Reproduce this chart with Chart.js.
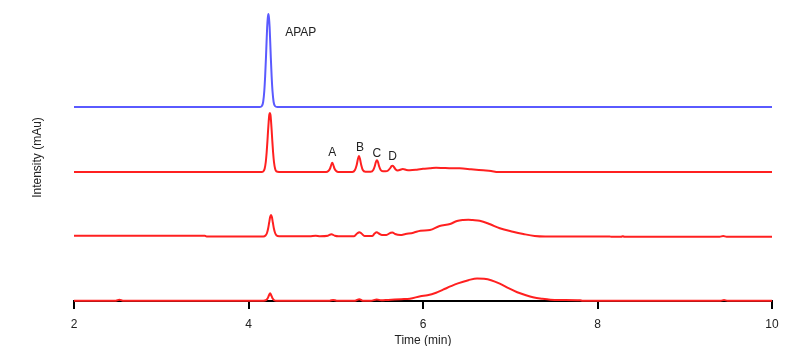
<!DOCTYPE html>
<html>
<head>
<meta charset="utf-8">
<script src="https://cdn.jsdelivr.net/npm/chart.js@4.4.1/dist/chart.umd.min.js"></script>
<style>
html,body{margin:0;padding:0;background:#fff;}
#wrap{width:800px;height:346px;}
</style>
</head>
<body>
<div id="wrap"><canvas id="c" width="800" height="346"></canvas></div>
<script>
// ---- DATA (time in min, intensity in mAu above each trace's own baseline) ----
const xTicks = [2, 4, 6, 8, 10];

const blueTime = [2.0, 4.13, 4.153, 4.168, 4.181, 4.191, 4.200, 4.207, 4.214, 4.221, 4.228, 4.235, 4.242, 4.249, 4.256, 4.265, 4.275, 4.288, 4.303, 4.33, 10.0];
const blueInt  = [0,   0,    1,     5,     16,    31,    49,    65,    80,    89,    93,    89,    80,    65,    49,    31,    16,    5,     1,     0,    0];

const red1Time = [2.0, 4.15, 4.17, 4.185, 4.198, 4.208, 4.217, 4.224, 4.231, 4.238, 4.245, 4.252, 4.259, 4.266, 4.273, 4.282, 4.292, 4.305, 4.32, 4.35,
                  4.89, 4.915, 4.935, 4.948, 4.96, 4.972, 4.985, 5.005, 5.03,
                  5.19, 5.22, 5.24, 5.254, 5.266, 5.278, 5.292, 5.31, 5.34, 5.37,
                  5.40, 5.43, 5.448, 5.46, 5.472, 5.484, 5.496, 5.515, 5.54,
                  5.57, 5.60, 5.625, 5.64, 5.652, 5.667, 5.687, 5.71,
                  5.77, 5.81, 5.85, 5.93, 6.0, 6.08, 6.15, 6.23, 6.3, 6.42, 6.55, 6.69, 6.78, 6.86, 10.0];
const red1Int  = [0, 0, 0.6, 3.3, 10, 19.5, 31, 41, 50, 57, 59, 57, 50, 41, 31, 19.5, 10, 3.3, 0.6, 0,
                  0, 1, 3.5, 7, 9.3, 7, 3.5, 1, 0,
                  0, 2, 7, 13, 16, 13, 7, 2, 0.3, 0.3,
                  0.3, 2, 6, 10, 11.7, 10, 6, 2, 0.8,
                  0.8, 1.5, 4, 6, 6.3, 5, 2.5, 1.5,
                  3, 2, 1.7, 2.3, 3.2, 3.7, 4.2, 4, 3.8, 3.7, 2.8, 1.7, 1, 0, 0];

const red2Time = [2.0, 3.5, 3.52, 4.17, 4.195, 4.212, 4.225, 4.237, 4.248, 4.258, 4.268, 4.279, 4.291, 4.305, 4.322, 4.35,
                  4.7, 4.77, 4.82, 4.91, 4.95, 4.99, 5.03, 5.21, 5.245, 5.27, 5.295, 5.33, 5.42, 5.445, 5.47, 5.495, 5.53,
                  5.58, 5.63, 5.65, 5.68, 5.74, 5.8, 5.89, 5.97, 6.08, 6.19, 6.31, 6.39, 6.46, 6.52, 6.57, 6.65, 6.77, 6.88,
                  7.03, 7.15, 7.28, 7.4, 8.14, 8.16, 8.27, 8.29, 8.31, 9.40, 9.44, 9.48, 10.0];
const red2Int  = [0.7, 0.7, 0, 0, 1, 3.5, 8, 14, 19.5, 21.5, 19.5, 14, 8, 3.5, 1, 0.3,
                  0.3, 0.8, 0.3, 0.8, 2.3, 0.8, 0.3, 0.3, 3, 4.3, 3, 0.5, 0.5, 3, 4.3, 3, 1.5,
                  1.5, 3.8, 4, 2.5, 1.5, 2.5, 3.8, 5.8, 6.5, 10.5, 12.5, 15.5, 16.5, 16.8, 16.5, 15.8, 12.2, 8.2,
                  4.8, 2.5, 0.5, 0, 0, -0.3, -0.3, 0.3, -0.3, -0.3, 0.5, -0.3, -0.3];

const red3Time = [2.0, 2.48, 2.52, 2.56, 4.17, 4.20, 4.22, 4.235, 4.248, 4.26, 4.275, 4.295, 4.32,
                  4.93, 4.97, 5.01, 5.22, 5.27, 5.31, 5.40, 5.47, 5.52, 5.6, 5.75, 5.85, 5.97, 6.05, 6.15, 6.23, 6.32,
                  6.40, 6.52, 6.62, 6.7, 6.78, 6.88, 6.98, 7.08, 7.18, 7.26, 7.36, 7.46, 7.6, 7.8, 7.83, 9.41, 9.45, 9.49, 10.0];
const red3Int  = [0, 0, 1, 0, 0, 0.5, 2.5, 5.5, 7.5, 5.5, 2.5, 0.5, 0,
                  0, 0.8, 0, 0, 1.5, 0, 0, 1.2, 0.4, 0.8, 1.5, 2, 4.5, 5.5, 8, 11, 14.5,
                  17.3, 20.5, 22.3, 22, 20.5, 17, 12.5, 8.5, 5.5, 3.5, 2, 1, 0.8, 0.5, 0, 0, 0.6, 0, 0];

// peak labels: text, time, height above its trace baseline, trace index
const peakLabels  = ['APAP', 'A', 'B', 'C', 'D'];
const labelTimes  = [4.599, 4.959, 5.278, 5.471, 5.650];
const labelHeight = [74.8, 19.2, 24.2, 18.7, 15.8];
const labelTrace  = [0, 1, 1, 1, 1];

// ---- presentation ----
const traceOffsets = [194, 129, 64.5, 0.3];   // vertical stacking of the traces
const traceColors  = ['#5a5aff', '#ff2020', '#ff2020', '#ff2020'];
const traces = [[blueTime, blueInt], [red1Time, red1Int], [red2Time, red2Int], [red3Time, red3Int]];
const FONT = "'Liberation Sans', Arial, sans-serif";
const TXT = '#222';

const datasets = traces.map(([t, v], k) => ({
  data: t.map((x, i) => ({x: x, y: v[i] + traceOffsets[k]})),
  borderColor: traceColors[k],
  borderWidth: 2,
  pointRadius: 0,
  fill: false,
  clip: false,
  cubicInterpolationMode: 'monotone'
}));

const labelPlugin = {
  id: 'peakLabels',
  afterDatasetsDraw(chart) {
    const {ctx, scales} = chart;
    ctx.save();
    ctx.font = '12px ' + FONT;
    ctx.fillStyle = TXT;
    ctx.textAlign = 'center';
    ctx.textBaseline = 'middle';
    peakLabels.forEach((s, i) => {
      const px = scales.x.getPixelForValue(labelTimes[i]);
      const py = scales.y.getPixelForValue(labelHeight[i] + traceOffsets[labelTrace[i]]);
      ctx.fillText(s, px, py);
    });
    ctx.restore();
  }
};

new Chart(document.getElementById('c'), {
  type: 'line',
  data: {datasets},
  plugins: [labelPlugin],
  options: {
    responsive: false,
    animation: false,
    layout: {padding: {left: 0, right: 28, top: 14, bottom: 0}},
    plugins: {legend: {display: false}, tooltip: {enabled: false}},
    scales: {
      x: {
        type: 'linear', min: xTicks[0], max: xTicks[xTicks.length - 1],
        afterBuildTicks: (s) => { s.ticks = xTicks.map(v => ({value: v})); },
        afterFit: (s) => { s.height = 45; },
        ticks: {font: {family: FONT, size: 12}, color: TXT, padding: 8, maxRotation: 0},
        grid: {display: true, drawOnChartArea: false, drawTicks: true, tickLength: 8, color: '#000', lineWidth: 2},
        border: {display: true, color: '#000', width: 2},
        title: {display: true, text: 'Time (min)', font: {family: FONT, size: 12, lineHeight: 1}, color: TXT, padding: {top: 0, bottom: -1}}
      },
      y: {
        type: 'linear', min: 0, max: 287,
        ticks: {display: false},
        grid: {display: false, drawTicks: false},
        border: {display: false},
        title: {display: true, text: 'Intensity (mAu)', font: {family: FONT, size: 12, lineHeight: 1.2}, color: TXT, padding: {top: 30.8, bottom: 28.8}}
      }
    }
  }
});
</script>
</body>
</html>
